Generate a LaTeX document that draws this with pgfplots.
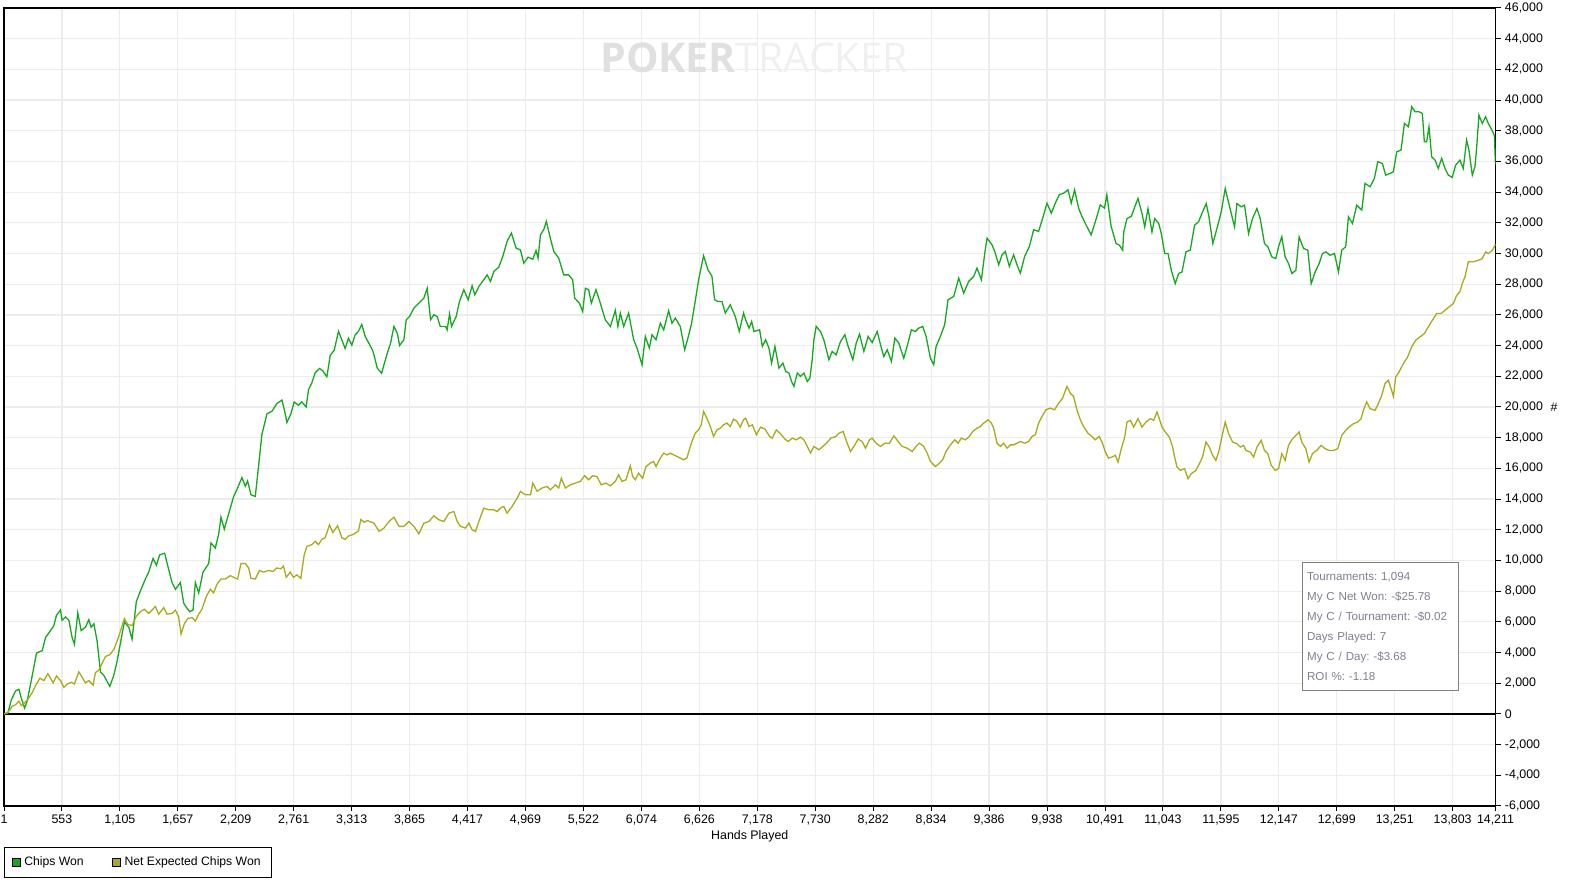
\documentclass[border=0pt]{standalone}
\usepackage{pgfplots}
\pgfplotsset{compat=1.18}
\usepackage{fontspec}
\setmainfont{Liberation Sans}
\newfontfamily\wmfont{Open Sans}
\definecolor{cwon}{RGB}{22,168,32}
\definecolor{cexp}{RGB}{170,170,30}
\definecolor{gridgray}{RGB}{236,236,236}
\definecolor{wmdark}{RGB}{224,224,224}
\definecolor{wmlight}{RGB}{240,240,240}
\definecolor{infotext}{RGB}{128,128,146}
\definecolor{boxgray}{RGB}{128,128,128}
\frenchspacing
\begin{document}
\begin{tikzpicture}
\useasboundingbox (-2pt,-43pt) rectangle (786pt,403pt);
\begin{axis}[name=ax, at={(0,0)}, anchor=south west,
  scale only axis, width=745.75pt, height=399pt,
  xmin=1, xmax=14211, ymin=-6000, ymax=46000,
  axis line style={line width=0.6pt},
  xtick={1,553,1105,1657,2209,2761,3313,3865,4417,4969,5522,6074,6626,7178,7730,8282,8834,9386,9938,10491,11043,11595,12147,12699,13251,13803,14211},
  ytick={-6000,-4000,...,46000},
  xtick pos=bottom, ytick pos=right, yticklabel pos=right,
  tick align=outside, major tick length=2.5pt,
  tick style={black, line width=0.5pt},
  grid=major, major grid style={gridgray, line width=0.6pt},
  ticklabel style={font=\fontsize{6.2}{7}\selectfont},
  /pgf/number format/1000 sep={,},
  /pgf/number format/assume math mode=true,
  scaled ticks=false,
  xticklabel style={yshift=1.5pt},
  yticklabel style={xshift=-1.3pt},
  xlabel={Hands Played},
  xlabel style={font=\fontsize{6.2}{7}\selectfont, yshift=4.5pt},
  legend style={at={(rel axis cs:0,0)}, anchor=north west, yshift=-20.5pt,
    legend columns=2, draw=black, line width=0.5pt,
    font=\fontsize{6.1}{7}\selectfont, inner xsep=3.5pt, inner ysep=2.5pt,
    /tikz/every even column/.append style={column sep=12pt}},
  legend image code/.code={\filldraw[#1,draw=black,line width=0.4pt] (0pt,-2pt) rectangle (4pt,2pt);},
]
\node[anchor=center, font=\wmfont\fontsize{20.5}{24}\selectfont] at (rel axis cs:0.503,0.938)
  {\textcolor{wmdark}{\bfseries POKER}\textcolor{wmlight}{TRACKER}};
\draw[black, line width=0.6pt] (axis cs:1,0) -- (axis cs:14211,0);

\addplot[color=cwon, line width=0.65pt] coordinates {
(1,0)(38,45)(70,900)(111,1500)(143,1610)(165,1050)(197,380)(222,830)(270,2500)(311,3970)(365,4125)(397,4980)(444,5425)(476,5760)(501,6430)(539,6770)(555,6100)(587,6320)(619,6100)(650,4980)(672,4530)(704,6590)(736,5430)(777,5650)(809,6140)(831,5650)(857,5870)(888,4750)(920,2740)(952,2510)(1009,1790)(1047,2510)(1078,3410)(1126,5200)(1148,5990)(1190,5650)(1221,4870)(1262,7330)(1307,8120)(1348,8790)(1380,9240)(1421,10130)(1453,9690)(1484,10360)(1532,10470)(1564,9570)(1602,8560)(1634,8120)(1681,8560)(1713,7220)(1745,6880)(1770,6660)(1802,6770)(1824,8560)(1856,7890)(1897,9240)(1951,9800)(1973,11140)(2014,10810)(2046,11700)(2068,12820)(2100,12040)(2151,13270)(2189,14170)(2227,14730)(2268,15400)(2300,14840)(2322,15180)(2354,14280)(2395,14170)(2427,16190)(2458,18200)(2506,19550)(2554,19730)(2601,20220)(2649,20450)(2681,19550)(2696,18990)(2734,19550)(2766,20330)(2807,20110)(2839,20330)(2880,20000)(2902,21120)(2934,21570)(2966,22240)(3007,22510)(3039,22350)(3077,21970)(3109,23360)(3147,23700)(3188,24930)(3220,24370)(3251,23810)(3283,24480)(3315,24030)(3347,24710)(3378,24930)(3410,25380)(3442,24600)
(3510,23730)(3526,23400)(3557,22530)(3599,22200)(3621,22750)(3653,23510)(3684,24160)(3716,25250)(3748,24810)(3770,24010)(3811,24380)(3833,25680)(3865,25900)(3906,26440)(3954,26770)(4001,27090)(4033,27740)(4065,25680)(4096,26010)(4128,25900)(4157,25250)(4208,25250)(4223,25030)(4246,26070)(4265,25250)(4309,25900)(4341,26880)(4382,27640)(4423,26980)(4461,27900)(4487,27310)(4525,27850)(4572,28290)(4604,28610)(4636,28180)(4668,28830)(4715,29110)(4753,29810)(4794,30790)(4835,31330)(4880,30350)(4921,30240)(4953,29370)(4994,29760)(5039,29630)(5070,30200)(5089,29700)(5112,31220)(5143,31550)(5168,32090)(5206,31000)(5239,30130)(5286,29700)(5334,28610)(5381,28610)(5419,28290)(5438,27090)(5483,26770)(5514,26220)(5540,27740)(5571,27640)(5597,26770)(5641,27640)(5682,26770)(5730,25680)(5778,25250)(5825,26290)(5850,25250)(5873,26120)(5905,25250)(5952,26120)(6000,24380)(6032,23840)(6080,22750)(6111,24600)(6149,23840)(6175,24710)(6213,24380)(6254,25460)(6286,25030)(6333,26270)(6365,25460)(6397,25790)(6444,25250)(6486,23730)(6517,24490)(6549,25360)(6581,26660)(6619,28290)(6666,29850)(6708,28940)(6746,28510)(6771,26990)(6803,26880)(6841,26880)(6873,26120)(6920,26660)(6968,25900)(7006,24920)(7047,26120)
(7067,25680)(7099,25140)(7124,25570)(7146,24920)(7200,25030)(7226,23940)(7257,24380)(7289,23840)(7314,22860)(7346,23940)(7384,22530)(7422,22860)(7448,22320)(7479,22210)(7505,21660)(7527,21340)(7559,22210)(7590,21990)(7622,22210)(7654,21660)(7679,21880)(7701,23080)(7717,24380)(7739,25250)(7780,24920)(7812,24380)(7860,23080)(7891,23620)(7929,23400)(7971,24270)(8012,24710)(8044,23940)(8088,23080)(8120,24160)(8152,24750)(8193,23620)(8234,24600)(8272,24200)(8320,24920)(8352,24050)(8383,23290)(8415,23730)(8456,22970)(8488,24490)(8526,24160)(8573,23180)(8605,23940)(8646,25030)(8684,24920)(8716,25140)(8754,25250)(8786,24600)(8827,23180)(8859,22750)(8881,23940)(8922,24600)(8963,25360)(8995,26990)(9049,27200)(9097,28400)(9144,27420)(9192,28180)(9240,28510)(9271,29050)(9313,28290)(9345,30020)(9367,31000)(9414,30570)(9440,30130)(9478,29270)(9510,29920)(9541,30130)(9579,29160)(9620,29920)(9652,29270)(9684,28720)(9725,29810)(9770,30460)(9811,31550)(9858,31440)(9897,32310)(9938,33280)(9979,32630)(10017,33280)(10055,33830)(10096,33930)(10138,34150)(10169,33280)(10201,34150)(10239,32960)(10270,32420)(10318,31760)(10359,31220)(10404,32200)(10445,33170)(10486,32960)(10508,33830)(10549,31760)
(10596,30650)(10628,30540)(10659,30220)(10669,31410)(10700,32280)(10742,32430)(10774,33040)(10805,33590)(10843,32610)(10869,31740)(10900,32930)(10938,31410)(10964,32280)(11002,31960)(11027,31300)(11059,30000)(11091,30000)(11122,28910)(11160,28040)(11192,28700)(11224,28800)(11262,30110)(11303,30220)(11344,31850)(11382,32070)(11414,32610)(11455,33260)(11481,32390)(11518,30650)(11557,31630)(11598,32720)(11636,34240)(11674,33150)(11725,31740)(11747,33260)(11788,33040)(11820,33150)(11858,31300)(11896,32280)(11938,32930)(11969,32280)(12010,30650)(12042,30440)(12080,29780)(12118,29670)(12144,30440)(12175,31090)(12207,29780)(12239,29350)(12271,28700)(12309,28910)(12340,31090)(12382,30330)(12423,30220)(12455,28040)(12493,28800)(12531,29350)(12562,30000)(12594,30110)(12635,29890)(12677,30000)(12715,28800)(12746,30220)(12784,30440)(12810,32390)(12848,31960)(12889,33150)(12937,32830)(12968,34570)(13016,34350)(13057,34890)(13089,35980)(13133,35870)(13165,35110)(13206,35220)(13238,35330)(13270,36630)(13311,36740)(13343,38480)(13381,38260)(13413,39570)(13444,39240)(13482,39240)(13514,39130)(13533,37280)(13555,37280)(13577,38260)(13603,36300)(13635,36090)(13666,35540)(13698,36200)(13730,35540)(13761,35110)(13799,34960)(13831,35760)(13872,36090)(13904,35540)(13936,37390)(13958,36740)(13990,35110)(14015,35650)(14031,36850)(14053,39020)(14085,38480)(14117,38910)(14142,38480)(14180,38000)(14200,37700)(14211,35800)
};
\addlegendentry{Chips Won}

\addplot[color=cexp, line width=0.65pt] coordinates {
(1,0)(32,90)(57,270)(79,490)(111,600)(143,830)(165,540)(197,720)(228,940)(270,1390)(301,1840)(343,2330)(381,2170)(419,2620)(444,2330)(469,2020)(501,2470)(539,2170)(571,1730)(603,1950)(641,2060)(672,1950)(714,2740)(745,2400)(777,2020)(809,2170)(850,1880)(872,2690)(904,2850)(936,3300)(968,3740)(1009,3860)(1047,4190)(1085,4870)(1117,5540)(1148,6210)(1180,5830)(1221,5760)(1262,6370)(1300,6660)(1338,6820)(1380,6550)(1412,6770)(1443,7000)(1475,6500)(1523,6930)(1554,6500)(1602,6550)(1634,6770)(1665,6320)(1688,5200)(1719,5870)(1751,6210)(1792,6280)(1824,6050)(1856,6500)(1887,6820)(1929,7670)(1967,8120)(1998,7890)(2030,8450)(2068,8790)(2109,8790)(2157,9010)(2189,8900)(2227,8790)(2259,9800)(2300,9800)(2332,9510)(2354,8830)(2395,8790)(2436,9350)(2474,9240)(2522,9350)(2563,9280)(2601,9510)(2639,9460)(2664,9640)(2690,8900)(2728,9240)(2759,8900)(2791,9060)(2829,8830)(2861,10360)(2887,10920)(2934,11030)(2966,11250)(2997,11030)(3029,11370)(3061,11480)(3102,12310)(3134,11820)(3179,12260)(3220,11480)(3251,11370)(3283,11590)(3331,11700)(3378,11930)(3401,12670)(3432,12490)(3464,12600)
(3526,12430)(3574,11890)(3621,12110)(3669,12540)(3716,12820)(3764,12220)(3811,12220)(3859,12540)(3906,12220)(3954,11740)(4001,12430)(4049,12540)(4096,12910)(4144,12650)(4192,12540)(4240,13080)(4287,13190)(4319,12540)(4350,12220)(4398,12110)(4430,12430)(4461,12000)(4493,11890)(4531,12650)(4572,13410)(4620,13300)(4668,13300)(4699,13190)(4731,13410)(4763,13520)(4794,13080)(4842,13520)(4890,14060)(4921,14500)(4969,14280)(5017,14280)(5039,15040)(5080,14500)(5127,14720)(5175,14820)(5207,14600)(5254,14930)(5286,14720)(5311,15360)(5349,14720)(5397,14930)(5444,15040)(5492,15150)(5533,15520)(5571,15260)(5609,15520)(5650,15470)(5691,14930)(5736,15040)(5778,14860)(5825,15150)(5857,15580)(5889,15150)(5927,15260)(5968,16170)(5990,15470)(6016,15260)(6047,15690)(6085,15360)(6117,16120)(6158,16340)(6190,16450)(6213,16120)(6254,16670)(6286,16990)(6317,16880)(6349,16990)(6381,16880)(6412,16780)(6444,16670)(6476,16560)(6507,16670)(6530,17210)(6555,17750)(6587,18300)(6619,18510)(6644,18840)(6666,19710)(6698,19270)(6730,18730)(6762,18080)(6793,18510)(6825,18620)(6857,18840)(6889,18950)(6920,18730)(6952,19210)(6984,19060)(7015,18690)(7047,19170)
(7067,19270)(7099,18730)(7131,18840)(7169,18190)(7210,18690)(7251,18560)(7295,18080)(7321,17970)(7359,18510)(7400,18250)(7441,17910)(7473,17750)(7511,17970)(7549,17860)(7590,18040)(7622,17860)(7654,17430)(7686,17000)(7717,17430)(7765,17210)(7803,17430)(7835,17640)(7879,17970)(7926,18080)(7958,18300)(7996,18400)(8034,17640)(8066,17100)(8098,17430)(8139,17910)(8177,17750)(8209,17320)(8247,17860)(8272,17970)(8310,17640)(8352,17430)(8393,17640)(8437,17640)(8479,18120)(8520,17750)(8558,17430)(8605,17320)(8653,17100)(8691,17430)(8722,17640)(8764,17430)(8796,17000)(8827,16450)(8875,16120)(8913,16340)(8944,16560)(8976,17100)(9017,17530)(9059,17860)(9091,17640)(9122,17970)(9160,17860)(9198,18080)(9230,18400)(9271,18620)(9303,18730)(9335,18950)(9376,19170)(9408,18950)(9430,18620)(9462,17640)(9494,17430)(9525,17640)(9557,17320)(9589,17530)(9620,17530)(9652,17640)(9684,17750)(9725,17640)(9763,17750)(9795,18080)(9827,18190)(9858,18950)(9890,19380)(9928,19820)(9969,19920)(10011,19820)(10049,20250)(10087,20580)(10128,21340)(10160,20900)(10191,20690)(10223,19820)(10255,19170)(10286,18730)(10327,18300)(10366,18080)(10397,17860)(10435,18080)(10467,17640)(10492,17100)(10524,16670)
(10558,16740)(10589,16850)(10615,16410)(10646,17280)(10678,18040)(10700,19020)(10732,19130)(10764,18690)(10805,19240)(10843,18690)(10881,19020)(10922,19240)(10954,19130)(10986,19670)(11008,19240)(11033,18690)(11065,18370)(11103,18040)(11135,17390)(11154,16740)(11176,16090)(11208,15870)(11249,15980)(11281,15330)(11312,15650)(11357,15870)(11389,16300)(11420,16740)(11452,17720)(11484,17390)(11516,16850)(11547,16520)(11573,17060)(11604,18040)(11636,19020)(11668,18260)(11706,17720)(11747,17610)(11779,17390)(11811,17500)(11833,17170)(11874,17060)(11906,16740)(11938,17390)(11979,17830)(12010,17170)(12042,16960)(12074,16200)(12112,15870)(12144,15980)(12175,16960)(12207,16520)(12239,17500)(12277,17930)(12309,18150)(12340,18370)(12365,17720)(12404,17280)(12435,16410)(12467,16960)(12508,17170)(12550,17500)(12588,17280)(12626,17170)(12667,17170)(12708,17280)(12746,18150)(12784,18480)(12816,18690)(12857,18910)(12899,19020)(12930,19240)(12952,19780)(12984,20330)(13016,19890)(13063,19780)(13095,20220)(13127,20760)(13158,21520)(13190,21740)(13216,21200)(13238,20690)(13260,21960)(13292,22280)(13333,22830)(13374,23260)(13412,23910)(13450,24350)(13492,24570)(13533,24780)(13571,25220)(13609,25650)(13650,26090)(13692,26090)(13730,26300)(13768,26520)(13809,26740)(13841,27280)(13872,27500)(13894,28040)(13920,28480)(13952,29460)(13999,29460)(14047,29560)(14085,29670)(14117,30110)(14142,30000)(14180,30200)(14211,30600)
};
\addlegendentry{Net Expected Chips Won}

\node[anchor=north west, draw=boxgray, line width=0.5pt, fill=white, text=infotext,
  font=\fontsize{5.8}{10}\selectfont, align=left, inner xsep=2.5pt, inner ysep=0pt,
  text width=73pt, minimum height=64pt] at (rel axis cs:0.870,0.306)
  {Tournaments: 1,094\\My C Net Won: -\$25.78\\My C / Tournament: -\$0.02\\Days Played: 7\\My C / Day: -\$3.68\\ROI \%: -1.18};
\end{axis}
\node[font=\fontsize{6.2}{7}\selectfont, anchor=center] at ([xshift=29.25pt]ax.east) {\#};
\end{tikzpicture}
\end{document}
